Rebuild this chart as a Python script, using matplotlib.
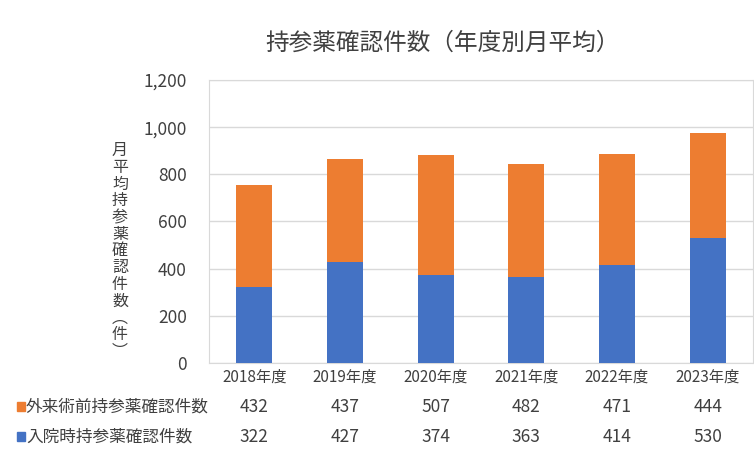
import matplotlib
matplotlib.use("Agg")
import matplotlib.pyplot as plt
import matplotlib.transforms as mtransforms
from matplotlib.ticker import FuncFormatter

plt.rcParams['font.family'] = ['Noto Sans CJK JP', 'DejaVu Sans']

years = ['2018年度', '2019年度', '2020年度', '2021年度', '2022年度', '2023年度']
outpatient = [432, 437, 507, 482, 471, 444]
inpatient = [322, 427, 374, 363, 414, 530]
label_out = '外来術前持参薬確認件数'
label_in = '入院時持参薬確認件数'
BLUE = '#4472C4'
ORANGE = '#ED7D31'
TEXT = '#404040'

W, H = 754, 474
fig = plt.figure(figsize=(W / 100, H / 100), dpi=100)
# plot area in pixels: left 209, right 753, top 80, bottom 363
ax = fig.add_axes([209 / W, 1 - 363 / H, (753 - 209) / W, (363 - 80) / H])

x = list(range(len(years)))
ax.bar(x, inpatient, width=0.4, color=BLUE, zorder=3)
ax.bar(x, outpatient, width=0.4, bottom=inpatient, color=ORANGE, zorder=3)

ax.set_xlim(-0.5, len(years) - 0.5)
ax.set_ylim(0, 1200)
ax.set_yticks(range(0, 1201, 200))
ax.yaxis.set_major_formatter(FuncFormatter(lambda v, p: f'{int(v):,}'))
ax.grid(axis='y', color='#D9D9D9', linewidth=1, zorder=0)
for s in ax.spines.values():
    s.set_color('#D9D9D9')
ax.tick_params(axis='y', length=0, labelsize=12.5, labelcolor=TEXT, pad=16)
ax.set_xticks(x)
ax.set_xticklabels(years)
ax.tick_params(axis='x', length=0, labelsize=11, labelcolor=TEXT, pad=4)

# vertical y label
ylab = '月平均持参薬確認件数︵件︶'
fig.text(120 / W, 1 - 251 / H, '\n'.join(ylab), ha='center', va='center',
         fontsize=11.5, color=TEXT, linespacing=0.98)

fig.text(443 / W, 1 - 43 / H, '持参薬確認件数（年度別月平均）', ha='center', va='center',
         fontsize=17, color=TEXT)

# data table under the axis
trans = mtransforms.blended_transform_factory(ax.transData, fig.transFigure)
rows = [(label_out, outpatient, ORANGE, 407), (label_in, inpatient, BLUE, 437)]
for name, vals, col, ypix in rows:
    yf = 1 - ypix / H
    fig.patches.append(plt.Rectangle((17 / W, yf - 4 / H), 8 / W, 9 / H,
                                     transform=fig.transFigure, color=col))
    fig.text(26 / W, yf, name, ha='left', va='center', fontsize=12, color=TEXT)
    for xi, v in zip(x, vals):
        fig.text(xi, yf, str(v), transform=trans, ha='center', va='center',
                 fontsize=12.5, color=TEXT)

fig.savefig('out.png', dpi=100)
